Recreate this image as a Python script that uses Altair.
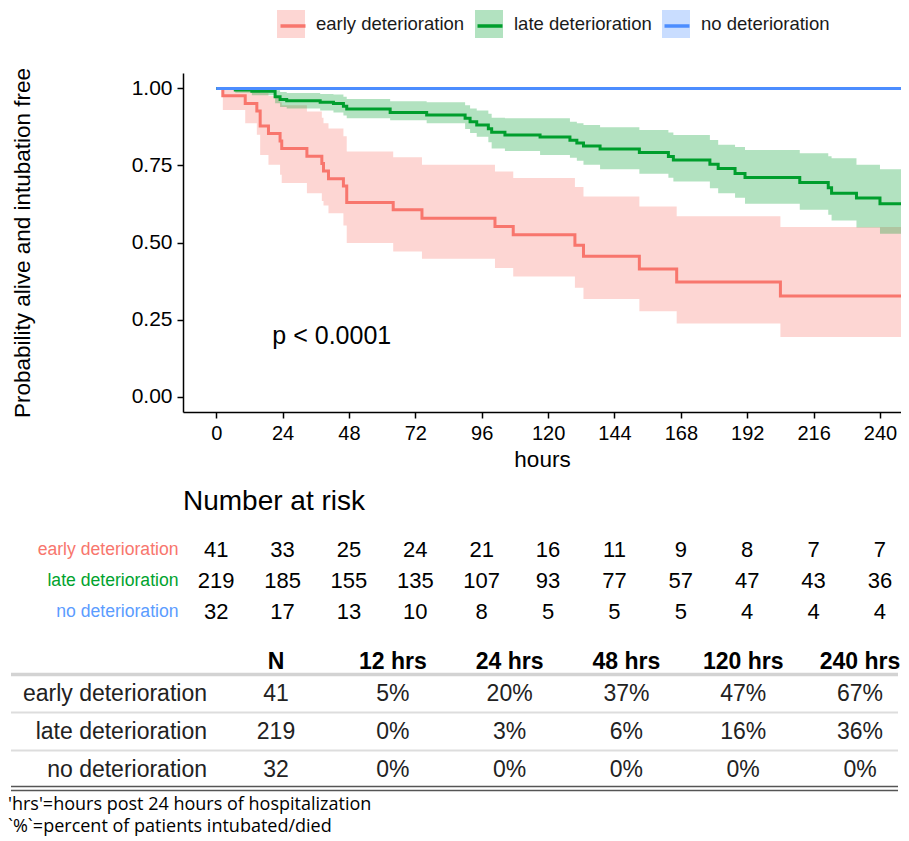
import altair as alt
import pandas as pd

FONT = "Liberation Sans"

groups = ["early deterioration", "late deterioration", "no deterioration"]
line_colors = ["#F8766D", "#009E2D", "#4C8DFF"]
label_colors = ["#F8766D", "#00A32E", "#5B9CFF"]

# Kaplan-Meier estimates (hours, survival, CI)
X_END = 247.6
early_time = [0, 2.4, 10.5, 14.7, 15.9, 18.9, 23.1, 23.7, 32.8, 38.2, 38.8, 40.6, 46.0, 47.2,
              64.0, 74.4, 100.8, 107.4, 129.7, 132.8, 153.0, 166.5, 204.0, X_END]
early_surv = [1.0, 0.976, 0.951, 0.927, 0.878, 0.854, 0.829, 0.805, 0.780, 0.756, 0.732, 0.707,
              0.683, 0.630, 0.606, 0.579, 0.552, 0.525, 0.491, 0.455, 0.414, 0.372, 0.326, 0.326]
early_upper = [1.0, 1.0, 1.0, 1.0, 0.985, 0.975, 0.955, 0.945, 0.925, 0.905, 0.887, 0.870,
               0.845, 0.795, 0.777, 0.752, 0.730, 0.709, 0.680, 0.649, 0.617, 0.585, 0.550, 0.550]
early_lower = [1.0, 0.930, 0.887, 0.850, 0.784, 0.752, 0.720, 0.693, 0.660, 0.635, 0.620, 0.595,
               0.555, 0.498, 0.471, 0.447, 0.417, 0.390, 0.353, 0.317, 0.277, 0.237, 0.193, 0.193]

late_time = [0, 6.9, 12.9, 21.3, 23.1, 25.5, 37.6, 42.4, 46.0, 47.2, 62.9, 76.1, 90.0, 91.8,
             94.2, 98.4, 99.6, 104.4, 117.1, 127.9, 130.4, 132.8, 138.8, 153.0, 163.5, 165.3,
             178.5, 181.5, 187.6, 191.2, 211.0, 221.3, 222.5, 231.5, 240.0, X_END]
late_surv = [1.0, 0.995, 0.991, 0.973, 0.964, 0.960, 0.955, 0.951, 0.942, 0.933, 0.922, 0.914,
             0.903, 0.892, 0.881, 0.869, 0.858, 0.849, 0.842, 0.832, 0.823, 0.813, 0.803, 0.792,
             0.779, 0.768, 0.754, 0.740, 0.724, 0.711, 0.695, 0.678, 0.660, 0.644, 0.626, 0.626]
late_upper = [1.0, 1.0, 1.0, 0.994, 0.988, 0.985, 0.982, 0.980, 0.973, 0.966, 0.958, 0.955,
              0.945, 0.935, 0.928, 0.918, 0.905, 0.903, 0.903, 0.892, 0.887, 0.881, 0.874, 0.865,
              0.857, 0.849, 0.833, 0.817, 0.810, 0.800, 0.790, 0.780, 0.773, 0.752, 0.738, 0.738]
late_lower = [1.0, 0.986, 0.978, 0.952, 0.940, 0.935, 0.928, 0.922, 0.912, 0.903, 0.897, 0.887,
              0.868, 0.855, 0.843, 0.825, 0.805, 0.797, 0.784, 0.775, 0.765, 0.752, 0.738, 0.723,
              0.710, 0.698, 0.676, 0.660, 0.645, 0.626, 0.606, 0.590, 0.571, 0.549, 0.528, 0.528]

no_time = [0, X_END]
no_surv = [1.0, 1.0]
no_upper = [1.0, 1.0]
no_lower = [1.0, 1.0]

x_ticks = [0, 24, 48, 72, 96, 120, 144, 168, 192, 216, 240]
y_ticks = [0.0, 0.25, 0.5, 0.75, 1.0]

risk_early = [41, 33, 25, 24, 21, 16, 11, 9, 8, 7, 7]
risk_late = [219, 185, 155, 135, 107, 93, 77, 57, 47, 43, 36]
risk_no = [32, 17, 13, 10, 8, 5, 5, 5, 4, 4, 4]

table_cols = ["N", "12 hrs", "24 hrs", "48 hrs", "120 hrs", "240 hrs"]
table_early = ["41", "5%", "20%", "37%", "47%", "67%"]
table_late = ["219", "0%", "3%", "6%", "16%", "36%"]
table_no = ["32", "0%", "0%", "0%", "0%", "0%"]

footnotes = ["'hrs'=hours post 24 hours of hospitalization",
             "`%`=percent of patients intubated/died"]

p_label = "p < 0.0001"

# ---------- data frames ----------
km_rows = []
for g, t, s, u, l in [
    (groups[0], early_time, early_surv, early_upper, early_lower),
    (groups[1], late_time, late_surv, late_upper, late_lower),
    (groups[2], no_time, no_surv, no_upper, no_lower),
]:
    for ti, si, ui, li in zip(t, s, u, l):
        km_rows.append({"time": ti, "surv": si, "upper": ui, "lower": li, "group": g})
km = pd.DataFrame(km_rows)

risk_rows = []
for g, vals in zip(groups, [risk_early, risk_late, risk_no]):
    for h, n in zip(x_ticks, vals):
        risk_rows.append({"group": g, "hour": h, "n": n})
risk = pd.DataFrame(risk_rows)

rows_all = ["header"] + groups
hdr_df = pd.DataFrame({"row": ["header"] * len(table_cols), "col": table_cols, "txt": table_cols})
body_rows = []
for g, vals in zip(groups, [table_early, table_late, table_no]):
    for c, v in zip(table_cols, vals):
        body_rows.append({"row": g, "col": c, "txt": v})
body_df = pd.DataFrame(body_rows)
lab_df = pd.DataFrame({"row": groups, "txt": groups})

# ---------- main KM plot ----------
W = 718
xscale = alt.Scale(domain=[-12, X_END], nice=False, zero=False)
yscale = alt.Scale(domain=[-0.05, 1.05], nice=False, zero=False)

band = alt.Chart(km).mark_area(interpolate="step-after", fillOpacity=0.3, clip=True).encode(
    x=alt.X("time:Q", scale=xscale,
            axis=alt.Axis(values=x_ticks, title="hours", labelFontSize=20, titleFontSize=22.5,
                          tickSize=6, labelPadding=5, titlePadding=5)),
    y=alt.Y("lower:Q", scale=yscale,
            axis=alt.Axis(values=y_ticks, format=".2f",
                          title="Probability alive and intubation free",
                          labelFontSize=21, titleFontSize=22.5, tickSize=6, labelPadding=5,
                          titleX=-161, titleY=169.5, titleBaseline="middle", titleAngle=270)),
    y2="upper:Q",
    fill=alt.Fill("group:N", scale=alt.Scale(domain=groups, range=line_colors),
                  legend=alt.Legend(orient="none", legendX=94, legendY=-63,
                                    direction="horizontal", title=None, symbolSize=784,
                                    symbolType="square", symbolOpacity=0.3,
                                    symbolStrokeWidth=0, labelFontSize=18.5, labelFont=FONT,
                                    labelColor="#1a1a1a", labelOffset=11, columnPadding=10,
                                    padding=0)),
)

# one line layer (and one single-entry legend key) per group, so that each key's
# line can sit centred on its shaded square
legend_x = [95.5, 292.5, 479.5]
line_layers = []
for g, c, lx in zip(groups, line_colors, legend_x):
    line_layers.append(
        alt.Chart(km[km["group"] == g]).mark_line(
            interpolate="step-after", strokeWidth=3, clip=True).encode(
            x=alt.X("time:Q", scale=xscale),
            y=alt.Y("surv:Q", scale=yscale),
            stroke=alt.Stroke("group:N", scale=alt.Scale(domain=[g], range=[c]),
                              legend=alt.Legend(orient="none", legendX=lx, legendY=-61.5,
                                                title=None, symbolType="stroke",
                                                symbolSize=625, symbolStrokeWidth=3.5,
                                                labelExpr="''", labelOffset=0, padding=0)),
        )
    )

ptext = alt.Chart(pd.DataFrame({"label": [p_label]})).mark_text(
    align="left", baseline="middle", fontSize=25, font=FONT, color="black"
).encode(x=alt.datum(20.3, scale=xscale), y=alt.datum(0.195, scale=yscale), text="label:N")

p1 = alt.layer(band, *line_layers, ptext).resolve_scale(
    stroke="independent").properties(width=W, height=339)

# ---------- number at risk ----------
label_expr = ("datum.value === '%s' ? '%s' : datum.value === '%s' ? '%s' : '%s'"
              % (groups[0], label_colors[0], groups[1], label_colors[1], label_colors[2]))

p2 = alt.Chart(risk).mark_text(fontSize=22, font=FONT, color="black").encode(
    x=alt.X("hour:Q", scale=xscale, axis=None),
    y=alt.Y("group:N", sort=groups,
            scale=alt.Scale(domain=groups, paddingInner=0, paddingOuter=0),
            axis=alt.Axis(title=None, domain=False, ticks=False, labelPadding=5,
                          labelFontSize=17.6, labelFont=FONT,
                          labelColor=alt.ExprRef(expr=label_expr))),
    text="n:Q",
).properties(
    width=W, height=93,
    title=alt.TitleParams("Number at risk", anchor="start", frame="group", fontSize=28,
                          fontWeight="normal", font=FONT, color="black",
                          baseline="alphabetic", offset=-4),
)

# ---------- summary table ----------
colscale = alt.Scale(type="point", domain=table_cols, range=[93, 677], padding=0)
rowscale = alt.Scale(type="band", domain=rows_all, paddingInner=0, paddingOuter=0)
X_LEFT = -172
X_RIGHT = W - 3

hdr = alt.Chart(hdr_df).mark_text(fontSize=23, fontWeight="bold", font=FONT, dy=6,
                                  color="black").encode(
    x=alt.X("col:N", scale=colscale, axis=None),
    y=alt.Y("row:N", scale=rowscale, axis=None),
    text="txt:N")

body = alt.Chart(body_df).mark_text(fontSize=23, font=FONT, color="#222222").encode(
    x=alt.X("col:N", scale=colscale, axis=None),
    y=alt.Y("row:N", scale=rowscale, axis=None),
    text="txt:N")

labs = alt.Chart(lab_df).mark_text(fontSize=23, font=FONT, align="right",
                                   color="#222222").encode(
    x=alt.value(24),
    y=alt.Y("row:N", scale=rowscale, axis=None),
    text="txt:N")

rule_top = alt.Chart(pd.DataFrame({"row": [groups[0]]})).mark_rule(
    color="#d3d3d3", strokeWidth=3.5).encode(
    x=alt.value(X_LEFT), x2=alt.value(X_RIGHT),
    y=alt.Y("row:N", scale=rowscale, axis=None, bandPosition=0))

rule_mid = alt.Chart(pd.DataFrame({"row": groups[1:]})).mark_rule(
    color="#dddddd", strokeWidth=2).encode(
    x=alt.value(X_LEFT), x2=alt.value(X_RIGHT),
    y=alt.Y("row:N", scale=rowscale, axis=None, bandPosition=0))

rule_bot = alt.Chart(pd.DataFrame({"row": [groups[2]]})).mark_rule(
    color="#555555", strokeWidth=5.5).encode(
    x=alt.value(X_LEFT), x2=alt.value(X_RIGHT),
    y=alt.Y("row:N", scale=rowscale, axis=None, bandPosition=1))

rule_bot_gap = alt.Chart(pd.DataFrame({"row": [groups[2]]})).mark_rule(
    color="white", strokeWidth=2.5).encode(
    x=alt.value(X_LEFT), x2=alt.value(X_RIGHT),
    y=alt.Y("row:N", scale=rowscale, axis=None, bandPosition=1))

p3 = alt.layer(rule_top, rule_mid, rule_bot, rule_bot_gap, hdr, body, labs).properties(
    width=W, height=152,
    title=alt.TitleParams(footnotes, orient="bottom", anchor="start", frame="group",
                          dx=X_LEFT - 3, offset=5, fontSize=18, font="Open Sans",
                          fontWeight="normal", color="black", baseline="top",
                          lineHeight=22),
)

lower = alt.VConcatChart(vconcat=[p2, p3], spacing=9.5, bounds="flush")

chart = alt.VConcatChart(vconcat=[p1, lower], spacing=122, bounds="flush").properties(
    padding={"left": 0, "top": 2, "right": 0, "bottom": 0}
).configure_view(stroke=None).configure_axis(
    grid=False, domainColor="black", tickColor="black", labelColor="black",
    titleColor="black", labelFont=FONT, titleFont=FONT, titleFontWeight="normal",
    domainWidth=1.5, tickWidth=1.5
)

chart.save("out.html", embed_options={"renderer": "svg", "actions": False})
